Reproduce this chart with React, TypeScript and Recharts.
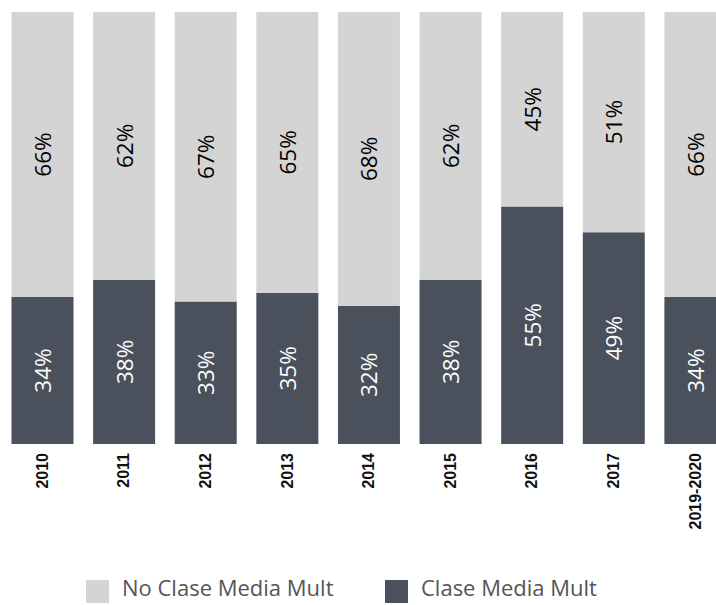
import React from "react";
import { BarChart, Bar, XAxis, YAxis, Legend, LabelList } from "recharts";

const years = ["2010", "2011", "2012", "2013", "2014", "2015", "2016", "2017", "2019-2020"];
const claseMedia = [34, 38, 33, 35, 32, 38, 55, 49, 34];
const noClaseMedia = [66, 62, 67, 65, 68, 62, 45, 51, 66];

const DARK = "#4a505c";
const LIGHT = "#d4d4d4";

const data = years.map((year, i) => ({
  year,
  clase: claseMedia[i],
  noClase: noClaseMedia[i],
}));

const pctLabel = (color: string) => (props: any) => {
  const { x, y, width, height, value } = props;
  const cx = x + width / 2;
  const cy = y + height / 2;
  return (
    <text
      x={cx}
      y={cy}
      transform={`rotate(-90, ${cx}, ${cy})`}
      textAnchor="middle"
      dominantBaseline="central"
      fill={color}
      fontSize={22.5}
      fontFamily="'Open Sans', sans-serif"
    >
      {value}%
    </text>
  );
};

const YearTick = (props: any) => {
  const { x, payload } = props;
  const y = 453;
  return (
    <text
      x={x}
      y={y}
      transform={`rotate(-90, ${x}, ${y})`}
      textAnchor="end"
      dominantBaseline="central"
      fill="#111"
      fontSize={16}
      fontWeight="bold"
      fontFamily="Arial, 'Liberation Sans', sans-serif"
    >
      {payload.value}
    </text>
  );
};

const LegendBox = () => (
  <div style={{ position: "relative", height: 39, fontFamily: "'Open Sans', sans-serif", fontSize: 22, lineHeight: "22px", color: "#555" }}>
    <div style={{ position: "absolute", left: 86, top: -1, width: 23, height: 23, background: LIGHT }} />
    <div style={{ position: "absolute", left: 122, top: -5, whiteSpace: "nowrap" }}>No Clase Media Mult</div>
    <div style={{ position: "absolute", left: 385, top: -1, width: 23, height: 23, background: DARK }} />
    <div style={{ position: "absolute", left: 421, top: -5, whiteSpace: "nowrap" }}>Clase Media Mult</div>
  </div>
);

export default function App() {
  return (
    <div style={{ position: "absolute", left: 0, top: 0, width: 716, height: 605, overflow: "hidden", background: "#fff" }}>
      <BarChart
        width={736}
        height={620}
        data={data}
        margin={{ top: 12, right: 0, left: 1.5, bottom: 0 }}
        barCategoryGap={10}
      >
        <XAxis dataKey="year" axisLine={false} tickLine={false} height={137} tick={<YearTick />} interval={0} />
        <YAxis hide domain={[0, 100]} />
        <Legend verticalAlign="bottom" align="left" content={() => <LegendBox />} wrapperStyle={{ left: 0 }} />
        <Bar dataKey="clase" stackId="a" fill={DARK} isAnimationActive={false}>
          <LabelList dataKey="clase" content={pctLabel("#ffffff")} />
        </Bar>
        <Bar dataKey="noClase" stackId="a" fill={LIGHT} isAnimationActive={false}>
          <LabelList dataKey="noClase" content={pctLabel("#000000")} />
        </Bar>
      </BarChart>
    </div>
  );
}
